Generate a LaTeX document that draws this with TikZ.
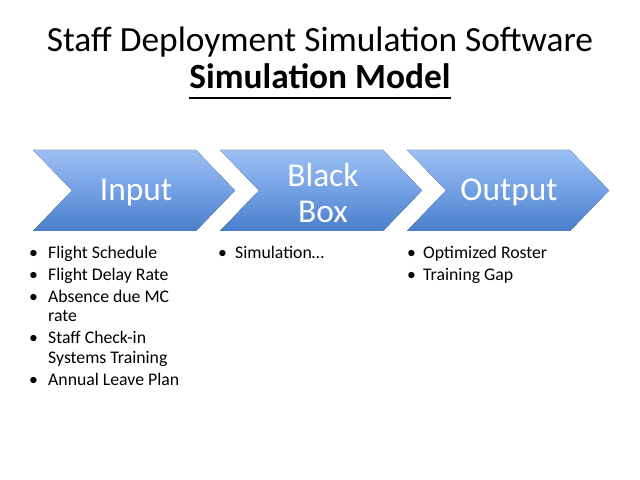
\documentclass[tikz,border=0pt]{standalone}
\usepackage{fontspec}
\setmainfont{Carlito}
\begin{document}
\begin{tikzpicture}[x=1bp,y=-1bp,
  chev/.style={top color=chevtop, bottom color=chevbot, middle color=chevmid, draw=none},
  chevtext/.style={text=white, font=\fontsize{33.5}{37}\selectfont, align=center, inner sep=0pt},
  bul/.style={anchor=base west, inner sep=0pt, font=\fontsize{17.8}{20}\selectfont},
  ttl/.style={anchor=base, inner sep=0pt}
]
\definecolor{chevtop}{HTML}{9CC0F4}
\definecolor{chevmid}{HTML}{73A0E4}
\definecolor{chevbot}{HTML}{4A7ECB}
\useasboundingbox[fill=white] (0,0) rectangle (640,480);

% title
\node[ttl, font=\fontsize{35.5}{40}\selectfont] (title) at (320,52) {Staff Deployment Simulation Software};
\node[ttl, font=\fontsize{35.5}{40}\selectfont\bfseries] (sub) at (320,89) {Simulation Model};
\draw[line width=2bp] ([yshift=-9bp]sub.base west) -- ([yshift=-9bp]sub.base east);

% chevrons
\foreach \L in {33,220,407}{
  \fill[chev] (\L,150) -- (\L+163,150) -- (\L+202,190.5) -- (\L+163,231) -- (\L,231) -- (\L+39,190.5) -- cycle;
}
\node[chevtext] (input) at (136,192) {Input};
\node[chevtext] (bbox) at (323,193) {Black\\Box};
\node[chevtext] (output) at (509,192) {Output};

% input bullets
\node[bul] (ib1) at (29,258) {\textbullet};
\node[bul] (it1) at (48,258) {Flight Schedule};
\node[bul] (ib2) at (29,280) {\textbullet};
\node[bul] (it2) at (48,280) {Flight Delay Rate};
\node[bul] (ib3) at (29,302) {\textbullet};
\node[bul] (it3) at (48,302) {Absence due MC};
\node[bul] (it3b) at (48,321) {rate};
\node[bul] (ib4) at (29,343) {\textbullet};
\node[bul] (it4) at (48,343) {Staff Check-in};
\node[bul] (it4b) at (48,363) {Systems Training};
\node[bul] (ib5) at (29,385) {\textbullet};
\node[bul] (it5) at (48,385) {Annual Leave Plan};

% black box bullets
\node[bul] (bb1) at (218,258) {\textbullet};
\node[bul] (bt1) at (235,258) {Simulation…};

% output bullets
\node[bul] (ob1) at (407,258) {\textbullet};
\node[bul] (ot1) at (423,258) {Optimized Roster};
\node[bul] (ob2) at (407,280) {\textbullet};
\node[bul] (ot2) at (423,280) {Training Gap};
\end{tikzpicture}
\end{document}
